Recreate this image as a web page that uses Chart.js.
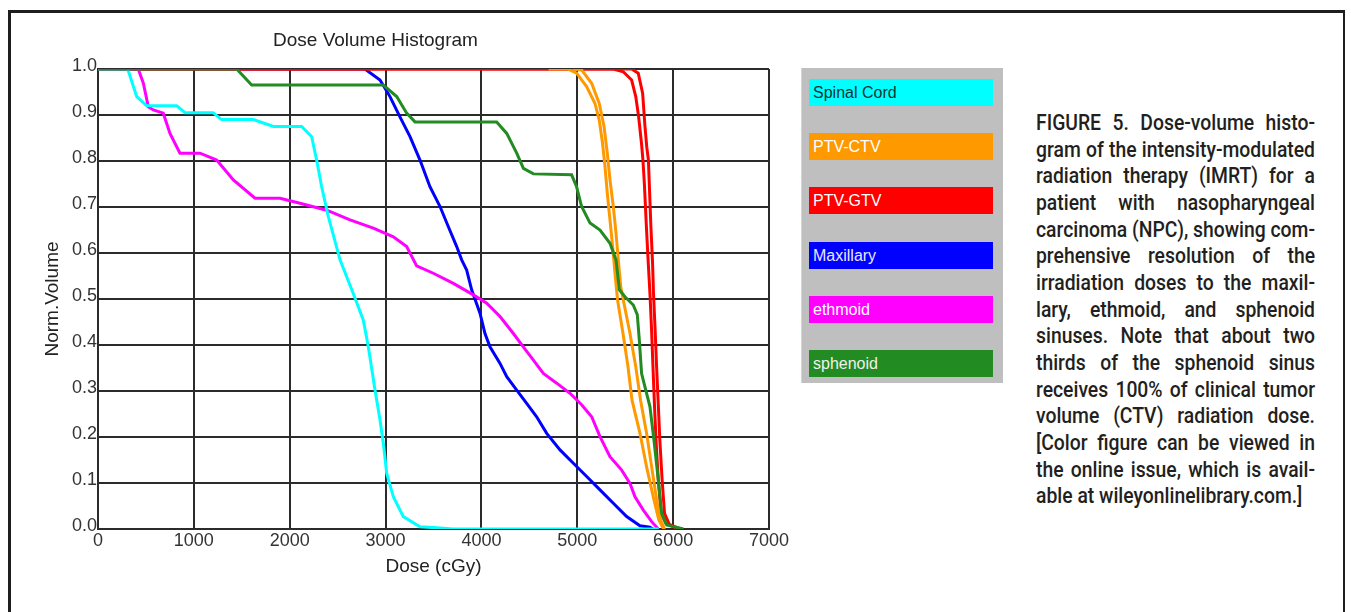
<!DOCTYPE html>
<html>
<head>
<meta charset="utf-8">
<title>Dose Volume Histogram</title>
<script src="https://cdn.jsdelivr.net/npm/chart.js@4.4.1/dist/chart.umd.min.js"></script>
<style>
  html, body { margin: 0; padding: 0; background: #fff; }
  body { width: 1351px; height: 612px; overflow: hidden; position: relative; font-family: "Liberation Sans", Arial, sans-serif; }
  .frame { position: absolute; left: 8px; top: 10px; width: 1337px; height: 700px; border: 3px solid #1e1e1e; border-right-width: 2.5px; box-sizing: border-box; }
  .chart-box { position: absolute; left: 0; top: 0; width: 800px; height: 612px; }
  .chart-title { position: absolute; left: 273px; top: 30px; font-size: 19px; line-height: 19px; color: #222; white-space: nowrap; }
  .legend { position: absolute; left: 801px; top: 68px; width: 202px; height: 315px; background: #bfbfbf; border-left: 1px solid #d4d4d4; box-sizing: border-box; }
  .legend-item { position: absolute; left: 7px; width: 184px; height: 27px; font-size: 16px; line-height: 27px; padding-left: 4px; box-sizing: border-box; white-space: nowrap; }
  .caption { position: absolute; left: 1036px; top: 110px; width: 279px; font-family: Roboto, "Liberation Sans", sans-serif; font-weight: 500; font-size: 22px; line-height: 26.65px; color: #231f20; transform-origin: left top; }
  .caption div { white-space: nowrap; text-align: justify; text-align-last: justify; }
  .caption div.last { text-align-last: left; }
  .caption span { white-space: nowrap; }
</style>
</head>
<body>
<div class="frame"></div>
<div class="chart-box"><canvas id="dvhChart"></canvas></div>
<div class="chart-title">Dose Volume Histogram</div>
<div class="legend" id="legend"></div>
<div class="caption" id="caption"></div>
<script>
const SERIES_NAMES = ["Spinal Cord", "PTV-CTV", "PTV-GTV", "Maxillary", "ethmoid", "sphenoid"];
const SERIES_COLORS = ["#00ffff", "#ff9900", "#ff0000", "#0000ff", "#ff00ff", "#228b22"];
const LEGEND_TEXT_COLORS = ["#103434", "#ffffff", "#ffffff", "#e8e8ff", "#ffffff", "#f0f0f0"];

const X_TICK_LABELS = ["0", "1000", "2000", "3000", "4000", "5000", "6000", "7000"];
const Y_TICK_LABELS = ["0.0", "0.1", "0.2", "0.3", "0.4", "0.5", "0.6", "0.7", "0.8", "0.9", "1.0"];

// dose (cGy) / normalised volume
const spinalDose = [0, 310, 404, 508, 821, 908, 1200, 1290, 1620, 1830, 2125, 2229, 2281, 2333, 2403, 2525, 2663, 2768, 2820, 2890, 2942, 2977, 3012, 3081, 3185, 3359, 3500, 3700, 5850];
const spinalVol = [1.0, 1.0, 0.94, 0.92, 0.92, 0.905, 0.905, 0.89, 0.89, 0.875, 0.875, 0.853, 0.802, 0.744, 0.679, 0.585, 0.512, 0.454, 0.396, 0.302, 0.237, 0.186, 0.121, 0.070, 0.027, 0.005, 0.003, 0.0, 0.0];

const ctvDoseA = [4700, 4900, 4993, 5097, 5185, 5229, 5264, 5289, 5313, 5341, 5369, 5393, 5420, 5477, 5529, 5571, 5654, 5723, 5800, 5850, 5900];
const ctvVolA = [1.0, 1.0, 0.991, 0.962, 0.925, 0.889, 0.838, 0.788, 0.730, 0.672, 0.614, 0.556, 0.498, 0.425, 0.353, 0.280, 0.208, 0.135, 0.063, 0.020, 0.0];
const ctvDoseB = [4950, 5045, 5150, 5229, 5279, 5313, 5341, 5376, 5404, 5428, 5453, 5480, 5550, 5610, 5660, 5723, 5776, 5828, 5870, 5910];
const ctvVolB = [1.0, 0.998, 0.969, 0.925, 0.875, 0.817, 0.759, 0.701, 0.643, 0.585, 0.527, 0.498, 0.425, 0.353, 0.280, 0.208, 0.135, 0.063, 0.020, 0.0];

const gtvDoseA = [0, 5376, 5480, 5567, 5610, 5640, 5670, 5685, 5700, 5721, 5740, 5758, 5775, 5790, 5805, 5822, 5845, 5875, 5925, 6010, 6060];
const gtvVolA = [1.0, 1.0, 0.994, 0.976, 0.94, 0.896, 0.838, 0.802, 0.75, 0.657, 0.58, 0.512, 0.433, 0.35, 0.27, 0.19, 0.107, 0.034, 0.012, 0.004, 0.0];
const gtvDoseB = [0, 5567, 5636, 5682, 5706, 5725, 5742, 5768, 5785, 5795, 5812, 5828, 5845, 5862, 5885, 5910, 5960, 6040, 6080];
const gtvVolB = [1.0, 1.0, 0.991, 0.947, 0.875, 0.83, 0.802, 0.657, 0.58, 0.512, 0.433, 0.35, 0.27, 0.19, 0.107, 0.034, 0.01, 0.003, 0.0];

const maxillaryDose = [0, 2785, 2942, 3046, 3150, 3255, 3359, 3463, 3568, 3655, 3742, 3794, 3846, 3898, 3985, 4037, 4089, 4194, 4264, 4368, 4472, 4576, 4681, 4820, 4959, 5098, 5237, 5376, 5515, 5654, 5758, 5790];
const maxillaryVol = [1.0, 1.0, 0.976, 0.94, 0.896, 0.853, 0.802, 0.744, 0.701, 0.657, 0.614, 0.585, 0.563, 0.520, 0.469, 0.425, 0.396, 0.360, 0.331, 0.302, 0.273, 0.244, 0.208, 0.172, 0.143, 0.114, 0.085, 0.056, 0.027, 0.007, 0.004, 0.0];

const ethmoidDose = [0, 420, 473, 525, 577, 681, 751, 855, 1064, 1238, 1412, 1638, 1899, 2107, 2386, 2629, 2872, 3081, 3220, 3324, 3498, 3707, 3916, 4055, 4194, 4333, 4437, 4542, 4646, 4785, 4924, 5045, 5150, 5237, 5341, 5463, 5550, 5602, 5689, 5776, 5845];
const ethmoidVol = [1.0, 1.0, 0.969, 0.918, 0.911, 0.904, 0.860, 0.817, 0.817, 0.802, 0.759, 0.719, 0.719, 0.708, 0.693, 0.672, 0.654, 0.635, 0.614, 0.572, 0.556, 0.534, 0.509, 0.491, 0.462, 0.425, 0.396, 0.367, 0.338, 0.317, 0.295, 0.270, 0.244, 0.201, 0.157, 0.128, 0.099, 0.070, 0.041, 0.016, 0.0];

const sphenoidDose = [0, 1447, 1603, 2976, 3116, 3220, 3307, 4159, 4264, 4368, 4438, 4542, 4941, 4993, 5045, 5133, 5237, 5341, 5404, 5439, 5497, 5584, 5626, 5647, 5671, 5723, 5758, 5800, 5845, 5880, 5932, 6107];
const sphenoidVol = [1.0, 1.0, 0.965, 0.965, 0.94, 0.904, 0.885, 0.885, 0.86, 0.817, 0.784, 0.772, 0.770, 0.744, 0.701, 0.665, 0.650, 0.621, 0.585, 0.520, 0.505, 0.487, 0.466, 0.411, 0.338, 0.295, 0.266, 0.193, 0.107, 0.034, 0.009, 0.0];

const CAPTION_LINES = [
  "FIGURE 5. Dose-volume histo-",
  "gram of the intensity-modulated",
  "radiation therapy (IMRT) for a",
  "patient with nasopharyngeal",
  "carcinoma (NPC), showing com-",
  "prehensive resolution of the",
  "irradiation doses to the maxil-",
  "lary, ethmoid, and sphenoid",
  "sinuses. Note that about two",
  "thirds of the sphenoid sinus",
  "receives 100% of clinical tumor",
  "volume (CTV) radiation dose.",
  "[Color figure can be viewed in",
  "the online issue, which is avail-",
  "able at wileyonlinelibrary.com.]",
];
const CAPTION_WIDTH = 279;

function toPoints(xs, ys) {
  return xs.map((x, i) => ({ x, y: ys[i] }));
}

function curve(label, xs, ys, color) {
  return {
    label,
    data: toPoints(xs, ys),
    borderColor: color,
    backgroundColor: color,
    borderWidth: 3,
    pointRadius: 0,
    tension: 0,
    fill: false,
  };
}

function renderLegend() {
  document.getElementById("legend").innerHTML = SERIES_NAMES.map((name, i) => `
    <div class="legend-item" style="top:${11 + i * 54.2}px;background:${SERIES_COLORS[i]};color:${LEGEND_TEXT_COLORS[i]}">${name}</div>
  `).join("");
}

// the caption is set in a condensed face: squeeze the whole block evenly
function renderCaption() {
  const box = document.getElementById("caption");
  box.innerHTML = CAPTION_LINES.map((line, i) =>
    `<div class="${i === CAPTION_LINES.length - 1 ? "last" : ""}"><span>${line}</span></div>`
  ).join("");
  const widest = Math.max(...[...box.querySelectorAll("span")].map((s) => s.getBoundingClientRect().width));
  const squeeze = Math.min(1, CAPTION_WIDTH / widest);
  box.style.width = `${CAPTION_WIDTH / squeeze}px`;
  box.style.transform = `scaleX(${squeeze})`;
}

function renderChart() {
  const gridColor = "#2b2b2b";
  // first dataset is painted last, so it sits on top
  const datasets = [
    curve("sphenoid", sphenoidDose, sphenoidVol, SERIES_COLORS[5]),
    curve("Spinal Cord", spinalDose, spinalVol, SERIES_COLORS[0]),
    curve("ethmoid", ethmoidDose, ethmoidVol, SERIES_COLORS[4]),
    curve("PTV-CTV", ctvDoseA, ctvVolA, SERIES_COLORS[1]),
    curve("PTV-CTV (2)", ctvDoseB, ctvVolB, SERIES_COLORS[1]),
    curve("PTV-GTV", gtvDoseA, gtvVolA, SERIES_COLORS[2]),
    curve("PTV-GTV (2)", gtvDoseB, gtvVolB, SERIES_COLORS[2]),
    curve("Maxillary", maxillaryDose, maxillaryVol, SERIES_COLORS[3]),
  ];

  new Chart(document.getElementById("dvhChart"), {
    type: "line",
    data: { datasets },
    options: {
      responsive: true,
      maintainAspectRatio: false,
      animation: false,
      layout: { padding: { top: 69, left: 0, right: 31, bottom: 0 } },
      plugins: { legend: { display: false }, tooltip: { enabled: false } },
      scales: {
        x: {
          type: "linear",
          min: 0,
          max: 7000,
          afterFit: (scale) => { scale.height = 83; },
          ticks: {
            stepSize: 1000,
            padding: 1,
            color: "#333",
            font: { size: 18 },
            maxRotation: 0,
            callback: (value, index) => X_TICK_LABELS[index],
          },
          grid: { color: gridColor, lineWidth: 2, drawTicks: false },
          border: { color: gridColor, width: 2 },
          title: { display: true, text: "Dose (cGy)", color: "#222", font: { size: 19 }, padding: { top: 0, bottom: 33.6 } },
        },
        y: {
          type: "linear",
          min: 0,
          max: 1,
          afterFit: (scale) => { scale.width = 98; },
          ticks: {
            stepSize: 0.1,
            padding: 1,
            labelOffset: -3,
            color: "#333",
            font: { size: 18 },
            callback: (value, index) => Y_TICK_LABELS[index],
          },
          grid: { color: gridColor, lineWidth: 2, drawTicks: false },
          border: { color: gridColor, width: 2 },
          title: { display: true, text: "Norm.Volume", color: "#222", font: { size: 19 }, padding: { top: 41.6, bottom: 0 } },
        },
      },
    },
  });
}

Chart.defaults.font.family = "'Liberation Sans', Arial, Helvetica, sans-serif";
renderLegend();
renderCaption();
renderChart();
</script>
</body>
</html>
